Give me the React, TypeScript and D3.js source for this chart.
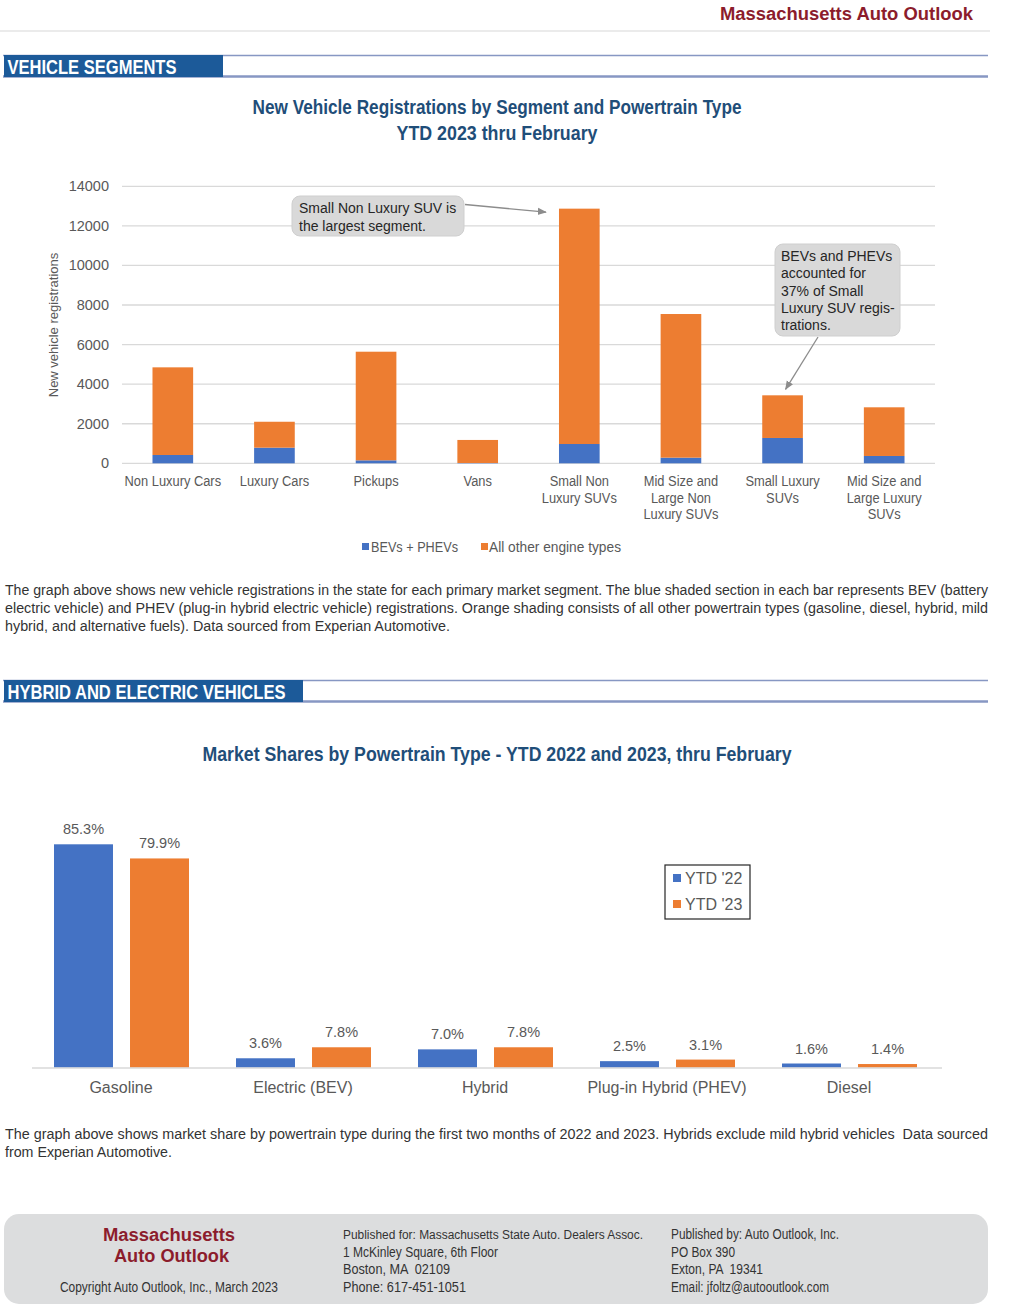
import * as d3 from "d3";

const segments = [
  "Non Luxury Cars",
  "Luxury Cars",
  "Pickups",
  "Vans",
  "Small Non Luxury SUVs",
  "Mid Size and Large Non Luxury SUVs",
  "Small Luxury SUVs",
  "Mid Size and Large Luxury SUVs",
];
// how the x labels wrap
const segmentLines = [
  ["Non Luxury Cars"],
  ["Luxury Cars"],
  ["Pickups"],
  ["Vans"],
  ["Small Non", "Luxury SUVs"],
  ["Mid Size and", "Large Non", "Luxury SUVs"],
  ["Small Luxury", "SUVs"],
  ["Mid Size and", "Large Luxury", "SUVs"],
];
const bevPhev = [420, 790, 150, 15, 975, 285, 1280, 370];
const otherEngines = [4430, 1310, 5490, 1165, 11895, 7260, 2156, 2460];
const regTicks = [0, 2000, 4000, 6000, 8000, 10000, 12000, 14000];

const powertrains = ["Gasoline", "Electric (BEV)", "Hybrid", "Plug-in Hybrid (PHEV)", "Diesel"];
const years = ["YTD '22", "YTD '23"];
const ytd22 = [85.3, 3.6, 7.0, 2.5, 1.6];
const ytd23 = [79.9, 7.8, 7.8, 3.1, 1.4];

const para1 = [
  "The graph above shows new vehicle registrations in the state for each primary market segment. The blue shaded section in each bar represents BEV (battery",
  "electric vehicle) and PHEV (plug-in hybrid electric vehicle) registrations. Orange shading consists of all other powertrain types (gasoline, diesel, hybrid, mild",
  "hybrid, and alternative fuels). Data sourced from Experian Automotive.",
];
const para2 = [
  "The graph above shows market share by powertrain type during the first two months of 2022 and 2023. Hybrids exclude mild hybrid vehicles  Data sourced",
  "from Experian Automotive.",
];

const BLUE = "#4472C4";
const ORANGE = "#ED7D31";
const RED = "#8C1C2C";
const NAVY = "#1F4E79";
const HEAD = "#1C5A99";
const RULE = "#8797C3";
const SANS = "'Liberation Sans', Arial, sans-serif";

// no condensed face is installed, so squeeze Liberation Sans to the widths in the page
function Fit({ x, y, w, children, ...rest }: any) {
  return (
    <text x={x} y={y} textLength={w} lengthAdjust="spacingAndGlyphs" fontFamily={SANS} style={{ whiteSpace: "pre" }} {...rest}>
      {children}
    </text>
  );
}

function SectionHeader({ y, w, tw, label }: { y: number; w: number; tw: number; label: string }) {
  return (
    <g>
      <line x1={3} x2={988} y1={y + 0.5} y2={y + 0.5} stroke={RULE} strokeWidth={1.5} />
      <line x1={3} x2={988} y1={y + 21.5} y2={y + 21.5} stroke={RULE} strokeWidth={2.5} />
      <rect x={4} y={y} width={w} height={22} fill={HEAD} />
      <Fit x={7.5} y={y + 18.5} w={tw} fill="#fff" fontWeight="bold" fontSize={21}>
        {label}
      </Fit>
    </g>
  );
}

function Paragraph({ lines, widths, y }: { lines: string[]; widths: number[]; y: number }) {
  return (
    <g fontSize={14} fill="#333">
      {lines.map((l, i) => (
        <Fit key={i} x={5} y={y + i * 18} w={widths[i]}>
          {l}
        </Fit>
      ))}
    </g>
  );
}

function SegmentChart() {
  const x = d3.scaleBand<string>().domain(segments).range([122, 935]).paddingInner(0.6).paddingOuter(0.3);
  const y = d3.scaleLinear().domain([0, 14000]).range([463.3, 186.3]);
  const stack = d3.stack<number>().keys(["bev", "other"]).value((i, k) => (k === "bev" ? bevPhev[i] : otherEngines[i]));
  const series = stack(d3.range(segments.length));
  const colors = [BLUE, ORANGE];
  const suvIdx = 4;
  const lux = 6;
  const top1 = bevPhev[suvIdx] + otherEngines[suvIdx];
  const top2 = bevPhev[lux] + otherEngines[lux];
  const labelScale = 0.92;
  return (
    <g>
      <g fontWeight="bold" fontSize={21} fill={NAVY} textAnchor="middle">
        <Fit x={497} y={114} w={489}>New Vehicle Registrations by Segment and Powertrain Type</Fit>
        <Fit x={497} y={140} w={201}>YTD 2023 thru February</Fit>
      </g>
      {regTicks.map((t) => (
        <g key={t}>
          <line x1={122} x2={935} y1={y(t)} y2={y(t)} stroke="#D9D9D9" strokeWidth={1.3} />
          <text x={109} y={y(t) + 5} textAnchor="end" fontFamily={SANS} fontSize={14.5} fill="#595959">
            {t}
          </text>
        </g>
      ))}
      <text
        transform="translate(58,325) rotate(-90)"
        textAnchor="middle"
        fontFamily={SANS}
        fontSize={13}
        fill="#595959"
      >
        New vehicle registrations
      </text>
      {series.map((s, si) => (
        <g key={si} fill={colors[si]}>
          {s.map((d, i) => (
            <rect
              key={i}
              x={x(segments[i])}
              y={y(d[1])}
              width={x.bandwidth()}
              height={Math.max(0, y(d[0]) - y(d[1]))}
            />
          ))}
        </g>
      ))}
      <g fontFamily={SANS} fontSize={14} fill="#595959" textAnchor="middle">
        {segmentLines.map((lines, i) =>
          lines.map((l, j) => (
            <text
              key={i + "-" + j}
              transform={`translate(${(x(segments[i]) ?? 0) + x.bandwidth() / 2},${486 + j * 16.5}) scale(${labelScale},1)`}
            >
              {l}
            </text>
          ))
        )}
      </g>
      <g fontSize={14} fill="#595959">
        <rect x={362} y={543} width={7} height={7} fill={BLUE} />
        <Fit x={371} y={552} w={87}>BEVs + PHEVs</Fit>
        <rect x={481} y={543} width={7} height={7} fill={ORANGE} />
        <Fit x={489} y={552} w={132}>All other engine types</Fit>
      </g>
      <defs>
        <marker id="arr" viewBox="0 0 10 10" refX={9} refY={5} markerWidth={7} markerHeight={7} orient="auto">
          <path d="M0,1 L10,5 L0,9 z" fill="#8C8C8C" />
        </marker>
      </defs>
      <line
        x1={465}
        y1={204.5}
        x2={(x(segments[suvIdx]) ?? 0) - 13}
        y2={y(top1) + 3.5}
        stroke="#8C8C8C"
        strokeWidth={1.3}
        markerEnd="url(#arr)"
      />
      <rect x={292} y={196} width={172} height={40} rx={8} fill="#D9D9D9" stroke="#CFCFCF" />
      <g fontFamily={SANS} fontSize={14} fill="#262626">
        <text x={299} y={213}>Small Non Luxury SUV is</text>
        <text x={299} y={230.5}>the largest segment.</text>
      </g>
      <line
        x1={818}
        y1={337}
        x2={(x(segments[lux]) ?? 0) + x.bandwidth() / 2 + 3}
        y2={y(top2) - 6}
        stroke="#8C8C8C"
        strokeWidth={1.3}
        markerEnd="url(#arr)"
      />
      <rect x={775} y={244} width={125} height={92} rx={8} fill="#D9D9D9" stroke="#CFCFCF" />
      <g fontFamily={SANS} fontSize={14} fill="#262626">
        {["BEVs and PHEVs", "accounted for", "37% of Small", "Luxury SUV regis-", "trations."].map((l, i) => (
          <text key={i} x={781} y={261 + i * 17.3}>
            {l}
          </text>
        ))}
      </g>
    </g>
  );
}

function ShareChart() {
  const x0 = d3.scaleBand<string>().domain(powertrains).range([32, 942]);
  const x1 = d3.scaleBand<string>().domain(years).range([22, 157]).paddingInner(0.224);
  const y = d3.scaleLinear().domain([0, 85.3]).range([1067.7, 844.3]);
  const vals = [ytd22, ytd23];
  const colors = [BLUE, ORANGE];
  return (
    <g>
      <Fit x={497} y={761} w={589} textAnchor="middle" fontWeight="bold" fontSize={21} fill={NAVY}>
        Market Shares by Powertrain Type - YTD 2022 and 2023, thru February
      </Fit>
      {powertrains.map((p, i) => (
        <g key={p} transform={`translate(${x0(p)},0)`}>
          {years.map((yr, k) => (
            <g key={yr}>
              <rect
                x={x1(yr)}
                y={y(vals[k][i])}
                width={x1.bandwidth()}
                height={y(0) - y(vals[k][i])}
                fill={colors[k]}
              />
              <text
                x={(x1(yr) ?? 0) + x1.bandwidth() / 2}
                y={y(vals[k][i]) - 10}
                textAnchor="middle"
                fontFamily={SANS}
                fontSize={14.5}
                fill="#595959"
              >
                {vals[k][i].toFixed(1) + "%"}
              </text>
            </g>
          ))}
          <text x={x0.bandwidth() / 2 - 2} y={1093} textAnchor="middle" fontFamily={SANS} fontSize={16} fill="#595959">
            {p}
          </text>
        </g>
      ))}
      <line x1={32} x2={942} y1={1068} y2={1068} stroke="#D9D9D9" strokeWidth={1.5} />
      <rect x={665} y={865} width={85} height={54} fill="#fff" stroke="#262626" strokeWidth={1.2} />
      {years.map((yr, k) => (
        <g key={yr}>
          <rect x={673} y={874 + k * 26} width={8} height={8} fill={colors[k]} />
          <text x={685} y={884 + k * 26} fontFamily={SANS} fontSize={16} fill="#595959">
            {yr}
          </text>
        </g>
      ))}
    </g>
  );
}

function Footer() {
  const col2 = [
    "Published for: Massachusetts State Auto. Dealers Assoc.",
    "1 McKinley Square, 6th Floor",
    "Boston, MA  02109",
    "Phone: 617-451-1051",
  ];
  const col2w = [300, 155, 107, 123];
  const col3 = ["Published by: Auto Outlook, Inc.", "PO Box 390", "Exton, PA  19341", "Email: jfoltz@autooutlook.com"];
  const col3w = [168, 64, 92, 158];
  return (
    <g>
      <rect x={4} y={1214} width={984} height={90} rx={15} fill="#DCDDDE" />
      <g fontWeight="bold" fontSize={18} fill={RED}>
        <Fit x={103} y={1241} w={132}>Massachusetts</Fit>
        <Fit x={114} y={1262} w={115}>Auto Outlook</Fit>
      </g>
      <g fill="#333">
        <Fit x={60} y={1292} w={218} fontSize={14}>Copyright Auto Outlook, Inc., March 2023</Fit>
        {col2.map((l, i) => (
          <Fit key={"a" + i} x={343} y={1239 + i * 17.5} w={col2w[i]} fontSize={i === 0 ? 12.5 : 14}>
            {l}
          </Fit>
        ))}
        {col3.map((l, i) => (
          <Fit key={"b" + i} x={671} y={1239 + i * 17.5} w={col3w[i]} fontSize={14}>
            {l}
          </Fit>
        ))}
      </g>
    </g>
  );
}

export default function App() {
  return (
    <svg
      width={1024}
      height={1306}
      style={{ position: "absolute", left: 0, top: 0, background: "#fff" }}
    >
      <rect width={1024} height={1306} fill="#fff" />
      <Fit x={720} y={20} w={253} fontWeight="bold" fontSize={18} fill={RED}>
        Massachusetts Auto Outlook
      </Fit>
      <line x1={0} x2={990} y1={31} y2={31} stroke="#E4E4E4" strokeWidth={1.5} />
      <SectionHeader y={55} w={219} tw={169} label="VEHICLE SEGMENTS" />
      <SegmentChart />
      <Paragraph lines={para1} widths={[983, 983, 445]} y={595} />
      <SectionHeader y={680} w={299} tw={278} label="HYBRID AND ELECTRIC VEHICLES" />
      <ShareChart />
      <Paragraph lines={para2} widths={[983, 167]} y={1139} />
      <Footer />
    </svg>
  );
}
